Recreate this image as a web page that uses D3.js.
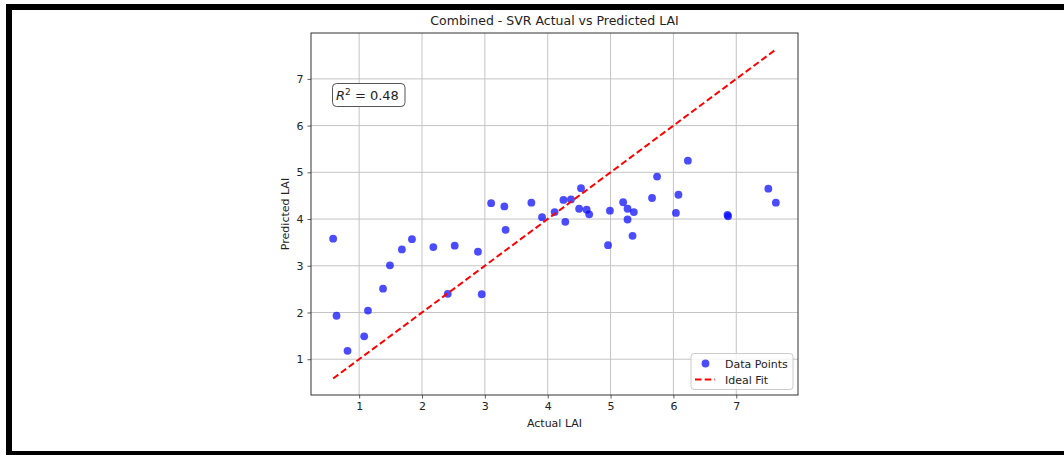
<!DOCTYPE html>
<html>
<head>
<meta charset="utf-8">
<script src="https://cdn.jsdelivr.net/npm/d3@7"></script>
<style>
  html, body { margin: 0; padding: 0; background: #fff; }
  svg { display: block; }
  text { font-family: "DejaVu Sans", sans-serif; fill: #222; }
</style>
</head>
<body>
<script>
// Actual vs predicted leaf area index (SVR, combined dataset)
const actualLAI = [
  0.586, 0.64, 0.815, 1.08, 1.14, 1.38, 1.49, 1.68, 1.84, 2.18,
  2.52, 2.41, 2.89, 2.95, 3.10, 3.31, 3.33, 3.74, 3.91, 4.11,
  4.25, 4.37, 4.53, 4.28, 4.50, 4.62, 4.66, 4.99, 5.20, 5.27,
  5.37, 5.27, 5.66, 5.74, 6.23, 6.08, 6.04, 6.86, 6.87, 7.51,
  7.63, 4.96, 5.35
];
const predictedLAI = [
  3.58, 1.93, 1.18, 1.49, 2.04, 2.51, 3.01, 3.35, 3.57, 3.40,
  3.43, 2.40, 3.30, 2.39, 4.34, 4.27, 3.77, 4.35, 4.04, 4.15,
  4.41, 4.42, 4.66, 3.94, 4.22, 4.20, 4.10, 4.18, 4.36, 4.22,
  4.15, 3.99, 4.45, 4.91, 5.25, 4.52, 4.13, 4.09, 4.06, 4.65,
  4.35, 3.44, 3.64
];
const tickValues = [1, 2, 3, 4, 5, 6, 7];
const r2Value = 0.48;
const titleText = "Combined - SVR Actual vs Predicted LAI";
const xLabel = "Actual LAI";
const yLabel = "Predicted LAI";
const legendLabels = ["Data Points", "Ideal Fit"];

const W = 1064, H = 455;
const plot = { left: 311, right: 798, top: 33, bottom: 395 };

const svg = d3.select("body").append("svg")
  .attr("width", W).attr("height", H);

// outer frame
svg.append("rect")
  .attr("x", 9).attr("y", 7)
  .attr("width", W + 20).attr("height", 447)
  .attr("fill", "none").attr("stroke", "#000").attr("stroke-width", 6);

// ideal-fit line spans the range of actual values; limits pad 5% around it
const lo = d3.min(actualLAI), hi = d3.max(actualLAI);
const pad = (hi - lo) * 0.05;

const x = d3.scaleLinear().domain([lo - pad, hi + pad]).range([plot.left, plot.right]);
const y = d3.scaleLinear().domain([lo - pad, hi + pad]).range([plot.bottom, plot.top]);

// grid
const grid = svg.append("g");
grid.selectAll("line.gx").data(tickValues).join("line")
  .attr("x1", d => x(d)).attr("x2", d => x(d))
  .attr("y1", plot.top).attr("y2", plot.bottom)
  .attr("stroke", "#c4c4c4").attr("stroke-width", 1);
grid.selectAll("line.gy").data(tickValues).join("line")
  .attr("y1", d => y(d)).attr("y2", d => y(d))
  .attr("x1", plot.left).attr("x2", plot.right)
  .attr("stroke", "#c4c4c4").attr("stroke-width", 1);

// axes
const xAxis = svg.append("g")
  .attr("transform", `translate(0,${plot.bottom})`)
  .call(d3.axisBottom(x).tickValues(tickValues).tickSize(3.5).tickPadding(4).tickFormat(d3.format("d")));
const yAxis = svg.append("g")
  .attr("transform", `translate(${plot.left},0)`)
  .call(d3.axisLeft(y).tickValues(tickValues).tickSize(3.5).tickPadding(4).tickFormat(d3.format("d")));
[xAxis, yAxis].forEach(g => {
  g.select(".domain").remove();
  g.selectAll(".tick line").attr("stroke", "#333").attr("stroke-width", 0.8);
  g.selectAll(".tick text").attr("font-size", 11).attr("font-family", "DejaVu Sans").attr("fill", "#222");
});

// points
svg.append("g").selectAll("circle")
  .data(actualLAI.map((a, i) => [a, predictedLAI[i]]))
  .join("circle")
  .attr("cx", d => x(d[0])).attr("cy", d => y(d[1]))
  .attr("r", 3.9)
  .attr("fill", "blue").attr("fill-opacity", 0.7);

// ideal fit
svg.append("line")
  .attr("x1", x(lo)).attr("y1", y(lo))
  .attr("x2", x(hi)).attr("y2", y(hi))
  .attr("stroke", "#ff0000").attr("stroke-width", 2)
  .attr("stroke-dasharray", "6.5,3.2");

// frame of the axes
svg.append("rect")
  .attr("x", plot.left).attr("y", plot.top)
  .attr("width", plot.right - plot.left).attr("height", plot.bottom - plot.top)
  .attr("fill", "none").attr("stroke", "#333").attr("stroke-width", 1);

// R² annotation
const ann = svg.append("g");
ann.append("rect")
  .attr("x", 332.5).attr("y", 83.5).attr("width", 72.5).attr("height", 23)
  .attr("rx", 4).attr("fill", "#fff").attr("stroke", "#555").attr("stroke-width", 1);
const annText = ann.append("text")
  .attr("x", 336).attr("y", 100).attr("font-size", 13);
annText.append("tspan").attr("font-style", "italic").text("R");
annText.append("tspan").attr("font-size", 9).attr("dy", -5).text("2");
annText.append("tspan").attr("dy", 5).text(" = " + r2Value.toFixed(2));

// title and axis labels
svg.append("text")
  .attr("x", (plot.left + plot.right) / 2).attr("y", 25)
  .attr("text-anchor", "middle").attr("font-size", 12.5).text(titleText);
svg.append("text")
  .attr("x", (plot.left + plot.right) / 2).attr("y", 427)
  .attr("text-anchor", "middle").attr("font-size", 11).text(xLabel);
svg.append("text")
  .attr("transform", `translate(289,${(plot.top + plot.bottom) / 2}) rotate(-90)`)
  .attr("text-anchor", "middle").attr("font-size", 11).text(yLabel);

// legend
const lg = svg.append("g");
lg.append("rect")
  .attr("x", 691).attr("y", 353.5).attr("width", 102).attr("height", 36)
  .attr("rx", 3).attr("fill", "#fff").attr("fill-opacity", 0.8)
  .attr("stroke", "#ccc").attr("stroke-width", 1);
lg.append("circle").attr("cx", 705.5).attr("cy", 363.5).attr("r", 3.9)
  .attr("fill", "blue").attr("fill-opacity", 0.7);
lg.append("line").attr("x1", 695).attr("x2", 715).attr("y1", 379.5).attr("y2", 379.5)
  .attr("stroke", "#ff0000").attr("stroke-width", 2).attr("stroke-dasharray", "6.5,3.2");
lg.append("text").attr("x", 725).attr("y", 367.5).attr("font-size", 11).text(legendLabels[0]);
lg.append("text").attr("x", 725).attr("y", 383.5).attr("font-size", 11).text(legendLabels[1]);
</script>
</body>
</html>
